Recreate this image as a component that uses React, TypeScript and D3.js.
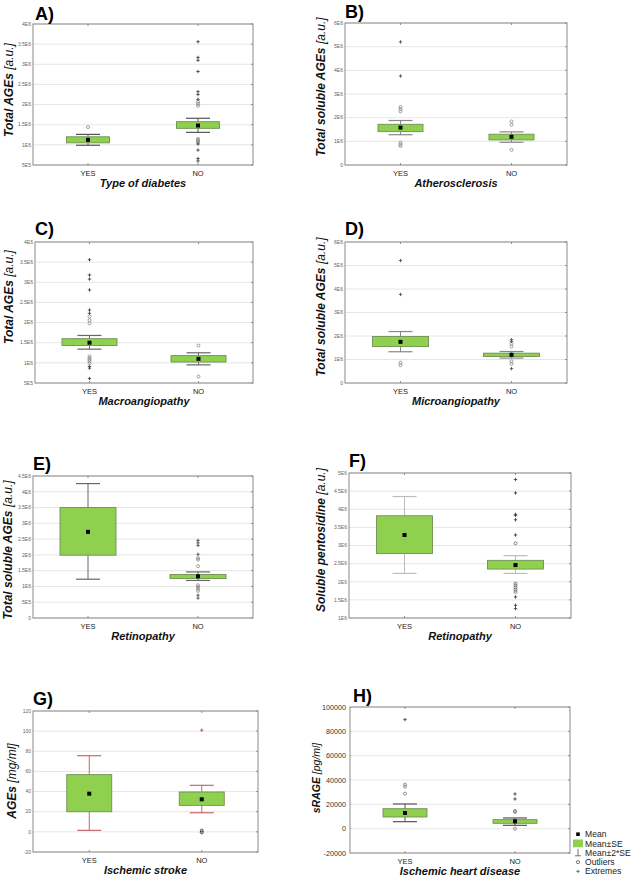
import React from "react";
import * as d3 from "d3";

// ---------------- DATA ----------------
const panelLabels = ["A)", "B)", "C)", "D)", "E)", "F)", "G)", "H)"];
const groups = ["YES", "NO"];
const xTitles = [
  "Type of diabetes",
  "Atherosclerosis",
  "Macroangiopathy",
  "Microangiopathy",
  "Retinopathy",
  "Retinopathy",
  "Ischemic stroke",
  "Ischemic heart disease",
];
const yTitleMain = [
  "Total AGEs",
  "Total soluble AGEs",
  "Total AGEs",
  "Total soluble AGEs",
  "Total soluble AGEs",
  "Soluble pentosidine",
  "AGEs",
  "sRAGE",
];
const yTitleUnit = ["[a.u.]", "[a.u.]", "[a.u.]", "[a.u.]", "[a.u.]", "[a.u.]", "[mg/ml]", "[pg/ml]"];

const yTickLabels = [
  ["5E5", "1E6", "1.5E6", "2E6", "2.5E6", "3E6", "3.5E6", "4E6"],
  ["0", "1E6", "2E6", "3E6", "4E6", "5E6", "6E6"],
  ["5E5", "1E6", "1.5E6", "2E6", "2.5E6", "3E6", "3.5E6", "4E6"],
  ["0", "1E6", "2E6", "3E6", "4E6", "5E6", "6E6"],
  ["0", "5E5", "1E6", "1.5E6", "2E6", "2.5E6", "3E6", "3.5E6", "4E6", "4.5E6"],
  ["1E6", "1.5E6", "2E6", "2.5E6", "3E6", "3.5E6", "4E6", "4.5E6", "5E6"],
  ["-20", "0", "20", "40", "60", "80", "100", "120"],
  ["-20000", "0", "20000", "40000", "60000", "80000", "100000"],
];
const yTickValues = yTickLabels.map((row) => row.map((s) => Number(s)));

// [YES, NO] per panel
const means = [
  [1.125e6, 1.48e6],
  [1.58e6, 1.19e6],
  [1.5e6, 1.1e6],
  [1.75e6, 1.2e6],
  [2.73e6, 1.32e6],
  [3.29e6, 2.46e6],
  [37.9, 32.3],
  [12900, 6000],
];
const seLow = [
  [1.05e6, 1.41e6],
  [1.41e6, 1.06e6],
  [1.43e6, 1.02e6],
  [1.55e6, 1.13e6],
  [1.99e6, 1.25e6],
  [2.78e6, 2.35e6],
  [20, 26.3],
  [9600, 4400],
];
const seHigh = [
  [1.2e6, 1.575e6],
  [1.72e6, 1.3e6],
  [1.6e6, 1.18e6],
  [1.98e6, 1.27e6],
  [3.5e6, 1.38e6],
  [3.82e6, 2.59e6],
  [56.8, 39.6],
  [16400, 7400],
];
const se2Low = [
  [0.99e6, 1.31e6],
  [1.28e6, 0.96e6],
  [1.34e6, 0.95e6],
  [1.33e6, 1.06e6],
  [1.23e6, 1.19e6],
  [2.23e6, 2.23e6],
  [1.5, 19],
  [5750, 2750],
];
const se2High = [
  [1.26e6, 1.66e6],
  [1.88e6, 1.4e6],
  [1.68e6, 1.25e6],
  [2.19e6, 1.34e6],
  [4.26e6, 1.46e6],
  [4.35e6, 2.72e6],
  [75.6, 46.2],
  [20300, 8800],
];
const outliers = [
  [[1.44e6], [2.07e6, 2.02e6, 1.97e6, 1.15e6, 1.12e6, 1.09e6, 1.06e6]],
  [[2.45e6, 2.36e6, 2.26e6, 0.95e6, 0.87e6, 0.8e6], [1.84e6, 1.7e6, 0.64e6]],
  [[2.15e6, 2.06e6, 1.98e6, 1.16e6, 1.12e6, 1.08e6, 1.04e6, 0.99e6], [1.43e6, 0.66e6]],
  [[0.87e6, 0.76e6], [1.67e6, 1.55e6, 0.92e6, 0.82e6]],
  [[], [1.9e6, 1.85e6, 1.64e6, 1.04e6, 0.98e6, 0.93e6, 0.86e6]],
  [[], [3.06e6, 1.95e6, 1.9e6, 1.84e6, 1.78e6, 1.72e6]],
  [[], [1.2, -0.6]],
  [[36200, 34600, 28800], [14500, 13700, 0]],
];
const extremes = [
  [[], [3.56e6, 3.17e6, 3.1e6, 2.82e6, 2.32e6, 2.25e6, 2.13e6, 1.02e6, 0.87e6, 0.66e6, 0.6e6]],
  [[5.2e6, 3.76e6], []],
  [[3.56e6, 3.18e6, 3.08e6, 2.81e6, 2.31e6, 2.23e6, 0.91e6, 0.87e6, 0.61e6], []],
  [[5.21e6, 3.77e6], [1.84e6, 1.77e6, 0.61e6]],
  [[], [2.46e6, 2.38e6, 2.3e6, 2.02e6, 0.72e6, 0.63e6]],
  [[], [4.82e6, 4.45e6, 3.86e6, 3.83e6, 3.71e6, 3.29e6, 1.58e6, 1.35e6, 1.26e6]],
  [[], [101]],
  [[89600], [28500, 24400]],
];
const legendLabels = ["Mean", "Mean\u00b1SE", "Mean\u00b12*SE", "Outliers", "Extremes"];

// ---------------- LAYOUT / STYLE ----------------
const frames = [
  { x0: 33, x1: 253, y0: 24, y1: 165 },
  { x0: 345, x1: 567, y0: 23, y1: 165 },
  { x0: 35, x1: 253, y0: 242, y1: 383 },
  { x0: 345, x1: 567, y0: 242, y1: 383 },
  { x0: 33, x1: 253, y0: 476, y1: 618 },
  { x0: 349, x1: 571, y0: 473, y1: 618 },
  { x0: 33, x1: 258, y0: 711, y1: 852 },
  { x0: 350, x1: 570, y0: 707, y1: 853 },
];
const boxWidths = [43, 45, 55, 56, 56, 56, 45, 44];
const labelPos = [
  [35, 20],
  [345, 18],
  [35, 235],
  [345, 235],
  [33, 470],
  [349, 467],
  [33, 705],
  [353, 702],
];
const yTitlePos = [
  [13, 90, 12],
  [325, 87, 12],
  [13, 297, 12],
  [325, 307, 12],
  [12, 550, 12],
  [325, 540, 12],
  [16, 781, 12],
  [320, 778, 10.5],
];
const whiskerColors = ["#555", "#888", "#666", "#888", "#666", "#bdbdbd", "#c46a6a", "#555"];
const extremeColors = ["#444", "#555", "#444", "#555", "#555", "#444", "#c0504d", "#444"];
const outlierColors = ["#888", "#888", "#888", "#888", "#888", "#666", "#222", "#777"];
const FONT = "'Liberation Sans', Arial, Helvetica, sans-serif";
const GREEN = "#8fd14f";

function Panel({ i }: { i: number }) {
  const f = frames[i];
  const ticks = yTickValues[i];
  const y = d3.scaleLinear().domain([ticks[0], ticks[ticks.length - 1]]).range([f.y1, f.y0]);
  const x = d3.scalePoint<string>().domain(groups).range([f.x0, f.x1]).padding(0.5);
  const bw = boxWidths[i];
  const cap = 24;
  const isH = i === 7;
  const tickFont = isH ? 7.2 : 5;
  const tickGap = isH ? 4 : 2;
  const [tx, ty, tfs] = yTitlePos[i];
  return (
    <g>
      {ticks.map((t, k) => (
        <line key={"g" + k} x1={f.x0} x2={f.x1} y1={y(t)} y2={y(t)} stroke="#e6e6e6" strokeWidth={1} />
      ))}
      {ticks.map((t, k) => (
        <line key={"rt" + k} x1={f.x1 - 2} x2={f.x1} y1={y(t)} y2={y(t)} stroke="#777" strokeWidth={0.8} />
      ))}
      {groups.map((g) => (
        <g key={"ct" + g}>
          <line x1={x(g)} x2={x(g)} y1={f.y0} y2={f.y0 + 2} stroke="#777" strokeWidth={0.8} />
          <line x1={x(g)} x2={x(g)} y1={f.y1 - 2} y2={f.y1} stroke="#777" strokeWidth={0.8} />
        </g>
      ))}
      <rect x={f.x0} y={f.y0} width={f.x1 - f.x0} height={f.y1 - f.y0} fill="none" stroke="#8a8a8a" strokeWidth={1} />
      {ticks.map((t, k) => (
        <text
          key={"tl" + k}
          x={f.x0 - tickGap}
          y={y(t)}
          dy="0.35em"
          textAnchor="end"
          fontSize={tickFont}
          fill={isH ? "#333" : "#666"}
          fontFamily={FONT}
        >
          {yTickLabels[i][k]}
        </text>
      ))}
      {groups.map((g, j) => {
        const cx = x(g) as number;
        return (
          <g key={"b" + g}>
            <line x1={cx} x2={cx} y1={y(se2Low[i][j])} y2={y(se2High[i][j])} stroke={whiskerColors[i]} strokeWidth={1} />
            <line x1={cx - cap / 2} x2={cx + cap / 2} y1={y(se2Low[i][j])} y2={y(se2Low[i][j])} stroke={whiskerColors[i]} strokeWidth={1.2} />
            <line x1={cx - cap / 2} x2={cx + cap / 2} y1={y(se2High[i][j])} y2={y(se2High[i][j])} stroke={whiskerColors[i]} strokeWidth={1.2} />
            <rect
              x={cx - bw / 2}
              y={y(seHigh[i][j])}
              width={bw}
              height={y(seLow[i][j]) - y(seHigh[i][j])}
              fill={GREEN}
              stroke="#6f8f55"
              strokeWidth={0.9}
            />
            <rect x={cx - 2} y={y(means[i][j]) - 2} width={4} height={4} fill="#000" />
            {outliers[i][j].map((v, k) => (
              <circle key={"o" + k} cx={cx} cy={y(v)} r={1.5} fill="none" stroke={outlierColors[i]} strokeWidth={0.8} />
            ))}
            {extremes[i][j].map((v, k) => (
              <path
                key={"e" + k}
                d={`M${cx - 1.7},${y(v)}H${cx + 1.7}M${cx},${y(v) - 1.7}V${y(v) + 1.7}`}
                stroke={extremeColors[i]}
                strokeWidth={0.9}
              />
            ))}
            <text x={cx} y={f.y1 + 11} textAnchor="middle" fontSize={7.5} fill="#222" fontFamily={FONT}>
              {g}
            </text>
          </g>
        );
      })}
      <text
        x={(f.x0 + f.x1) / 2}
        y={f.y1 + 21.5}
        textAnchor="middle"
        fontSize={11}
        fontWeight="bold"
        fontStyle="italic"
        fill="#111"
        fontFamily={FONT}
      >
        {xTitles[i]}
      </text>
      <text
        transform={`translate(${tx},${ty}) rotate(-90)`}
        textAnchor="middle"
        fontSize={tfs}
        fontStyle="italic"
        fill="#111"
        fontFamily={FONT}
      >
        <tspan fontWeight="bold">{yTitleMain[i] + " "}</tspan>
        <tspan fontWeight="normal">{yTitleUnit[i]}</tspan>
      </text>
      <text x={labelPos[i][0]} y={labelPos[i][1]} fontSize={18} fontWeight="bold" fill="#000" fontFamily={FONT}>
        {panelLabels[i]}
      </text>
    </g>
  );
}

function Legend() {
  const x0 = 578;
  const tx = 585;
  const rows = [837.2, 846.5, 855.8, 865.1, 874.4];
  return (
    <g fontFamily={FONT} fontSize={8.6} fill="#222">
      <rect x={x0 - 1.8} y={rows[0] - 4.8} width={3.6} height={3.6} fill="#000" />
      <rect x={573} y={rows[1] - 7} width={10} height={7.8} fill={GREEN} />
      <path d={`M${x0},${rows[2] - 7}V${rows[2]}M${x0 - 3},${rows[2]}H${x0 + 3}`} stroke="#555" strokeWidth={0.8} fill="none" />
      <circle cx={x0} cy={rows[3] - 3} r={1.6} fill="none" stroke="#555" strokeWidth={0.8} />
      <path d={`M${x0 - 1.7},${rows[4] - 3}H${x0 + 1.7}M${x0},${rows[4] - 4.7}V${rows[4] - 1.3}`} stroke="#555" strokeWidth={0.8} />
      {legendLabels.map((l, k) => (
        <text key={l} x={tx} y={rows[k]}>
          {l}
        </text>
      ))}
    </g>
  );
}

export default function App() {
  return (
    <svg
      width={640}
      height={877}
      viewBox="0 0 640 877"
      style={{ position: "absolute", left: 0, top: 0, display: "block", background: "#fff" }}
    >
      <rect x={0} y={0} width={640} height={877} fill="#fff" />
      {panelLabels.map((_, i) => (
        <Panel key={i} i={i} />
      ))}
      <Legend />
    </svg>
  );
}
